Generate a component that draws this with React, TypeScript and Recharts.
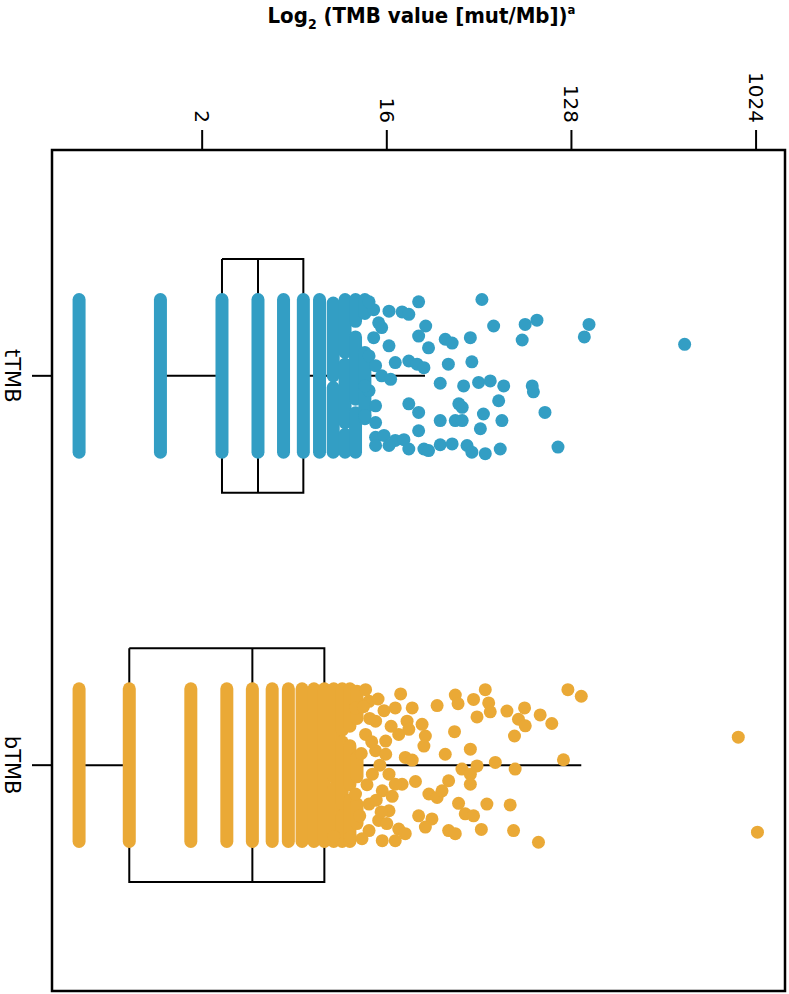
import React from "react";
import {
  ScatterChart,
  Scatter,
  XAxis,
  YAxis,
  ReferenceArea,
} from "recharts";

// categories (1 = top, 2 = bottom)
const categories = ["tTMB", "bTMB"];
const xTicks = [2, 16, 128, 1024];

// TMB values that form solid jittered strips (mut/Mb)
const tStrips = [0.5, 1.25, 2.5, 3.75, 5, 6.25, 7.5];
const bStrips = [0.5, 0.88, 1.76, 2.64, 3.52, 4.4, 5.28, 6.16, 7.04, 7.92];

// partial strips: [value, jitter from, jitter to]
const tSegments: [number, number, number][] = [
  [8.75, -0.187, 0.0],
  [8.75, 0.03, 0.196],
  [10, -0.196, -0.06],
  [10, -0.03, 0.12],
  [10, 0.15, 0.196],
  [11.25, -0.196, -0.14],
  [11.25, -0.1, 0.06],
  [11.25, 0.095, 0.196],
  [12.5, -0.196, -0.16],
  [12.5, -0.06, 0.02],
  [12.5, 0.04, 0.11],
];
const bSegments: [number, number, number][] = [
  [8.8, -0.196, 0.03],
  [8.8, 0.06, 0.196],
  [9.68, -0.196, -0.09],
  [9.68, -0.06, 0.1],
  [9.68, 0.13, 0.196],
  [10.56, -0.196, -0.1],
  [10.56, -0.05, 0.05],
  [10.56, 0.09, 0.196],
  [11.44, -0.19, -0.12],
  [11.44, -0.02, 0.03],
  [11.44, 0.1, 0.15],
];

// single points: [TMB value, jitter]
const tDots: [number, number][] = [
  [22.9, -0.19], [46.7, -0.196], [16.4, -0.166], [19.0, -0.164], [20.5, -0.158],
  [24.8, -0.128], [53.3, -0.128], [76, -0.132], [86.8, -0.143], [22.9, -0.102],
  [30.9, -0.094], [33.4, -0.084], [41, -0.098], [73.5, -0.092], [25.6, -0.072],
  [16.4, -0.077], [14.6, -0.136], [13.8, -0.098], [15.1, -0.124], [17.6, -0.034],
  [20.5, -0.038], [22.5, -0.03], [24.3, -0.021], [32, -0.03], [41.7, -0.036],
  [15.1, 0], [16.7, 0.009], [29.2, 0.019], [38, 0.026], [45, 0.017],
  [51.3, 0.013], [59.7, 0.026], [82.3, 0.026], [83.4, 0.041], [20.5, 0.072],
  [36, 0.072], [37.4, 0.081], [56.4, 0.064], [95, 0.094], [22.9, 0.094],
  [29.2, 0.115], [34.6, 0.115], [37.4, 0.115], [47.5, 0.098], [58.5, 0.115],
  [22.9, 0.141], [45.9, 0.136], [14.1, 0.158], [15.5, 0.153], [17.6, 0.166],
  [19.4, 0.164], [20.5, 0.188], [24.3, 0.188], [25.6, 0.192], [29.2, 0.177],
  [33.4, 0.175], [39.5, 0.179], [41.7, 0.196], [48.5, 0.2], [57.4, 0.188],
  [110, 0.183], [14.1, 0.179], [16.4, 0.179], [13.1, -0.051], [14.1, -0.026],
  [12.5, 0.102], [13.1, 0.038], [12.5, 0.026], [14.1, 0.077], [13.8, -0.17],
  [13.1, -0.19], [14.1, 0.12], [156, -0.132], [148, -0.1], [458, -0.081],
];
const bDots: [number, number][] = [
  [12.6, -0.194], [18.7, -0.183], [21.3, -0.147], [17.6, -0.147], [28.2, -0.153],
  [34.6, -0.18], [35.7, -0.158], [42.5, -0.169], [48.5, -0.194], [50.4, -0.16],
  [51.3, -0.137], [44.2, -0.124], [61.9, -0.139], [75.5, -0.147], [70.5, -0.118],
  [76.1, -0.101], [90, -0.129], [102.6, -0.107], [67.4, -0.075], [34.3, -0.086],
  [23.8, -0.105], [24.7, -0.075], [24.3, -0.049], [20.1, -0.113], [20.5, -0.092],
  [18.3, -0.079], [30.9, -0.028], [41, -0.041], [19.7, -0.02], [21.3, -0.013],
  [14.1, -0.037], [15.8, -0.028], [37.3, 0.01], [41, 0.023], [44.2, 0.002],
  [54.3, -0.007], [67.9, 0.01], [117, -0.014], [32.1, 0.04], [41, 0.049],
  [22.1, 0.042], [19, 0.049], [25.7, 0.074], [28.2, 0.083], [29.8, 0.066],
  [35.9, 0.098], [49.4, 0.1], [64.2, 0.102], [38.7, 0.125], [42.5, 0.13],
  [22.9, 0.13], [26.6, 0.138], [24.7, 0.159], [32.1, 0.168], [34.6, 0.176],
  [46.4, 0.165], [66.7, 0.168], [88.3, 0.198], [18.3, 0.164], [19.7, 0.176],
  [14.6, 0.142], [16.4, 0.117], [13.1, 0.168], [15.2, 0.194], [10.6, 0.185],
  [8.81, 0.183], [12.1, 0.189], [17.6, 0.194], [13.1, 0.1], [11.25, 0.074],
  [15.2, 0.066], [17.6, 0.049], [13.6, 0.023], [12.6, -0.079], [14.1, -0.113],
  [11.25, -0.147], [13.1, -0.164], [15.8, -0.062], [16.4, 0.023], [12.3, -0.15],
  [13.2, -0.12], [14.5, -0.17], [15.5, -0.14], [12.0, -0.03], [13.5, -0.06],
  [14.8, 0.0], [16.8, -0.1], [12.8, 0.05], [14.2, 0.09], [16.0, 0.15],
  [11.8, 0.13], [17.0, 0.08], [15.0, 0.12], [123, -0.194], [143, -0.177],
  [838, -0.072], [1040, 0.172],
];

// box stats: [lower whisker, Q1, median, Q3, upper whisker]
const tBox = [1.25, 2.5, 3.75, 6.25, 24.6];
const bBox = [0.5, 0.88, 3.52, 7.92, 143];

const BLUE = "#339ec4";
const ORANGE = "#eaa936";
const JITTER = 0.196;
const BOX_HALF = 0.3;
const X_DOMAIN = [Math.pow(2, -1.44), Math.pow(2, 10.47)];
const Y_DOMAIN = [0.42, 2.58];

const Empty = () => <g />;

const Dot = (color: string) => (p: any) =>
  <circle cx={p.cx} cy={p.cy} r={6.5} fill={color} />;

function TopTick(props: any) {
  const { x, y, payload } = props;
  return (
    <text
      x={x}
      y={y}
      transform={`rotate(90, ${x}, ${y})`}
      textAnchor="end"
      dy="0.36em"
      fontSize={20}
      fontFamily="DejaVu Sans"
      fill="#000"
    >
      {payload.value}
    </text>
  );
}

function LeftTick(props: any) {
  const { x, y, payload } = props;
  return (
    <text
      x={x}
      y={y}
      transform={`rotate(90, ${x}, ${y})`}
      textAnchor="middle"
      fontSize={21}
      fontFamily="DejaVu Sans"
      fill="#000"
    >
      {categories[payload.value - 1]}
    </text>
  );
}

function AxisTitle(props: any) {
  const vb = props.viewBox || { x: 52, width: 733 };
  const cx = vb.x + vb.width / 2 + 3;
  return (
    <text
      x={cx}
      y={23}
      textAnchor="middle"
      fontSize={22}
      fontWeight="bold"
      fontFamily="DejaVu Sans Condensed"
      fill="#000"
    >
      Log
      <tspan dy={6} fontSize={14}>2</tspan>
      <tspan dy={-6}> (TMB value [mut/Mb])</tspan>
      <tspan dy={-9} fontSize={13}>a</tspan>
    </text>
  );
}

function boxPaths(stats: number[], cat: number) {
  const [lo, q1, med, q3, hi] = stats;
  const top = cat - BOX_HALF;
  const bot = cat + BOX_HALF;
  return [
    [
      { x: q1, y: top }, { x: q3, y: top }, { x: q3, y: bot },
      { x: q1, y: bot }, { x: q1, y: top },
    ],
    [{ x: med, y: top }, { x: med, y: bot }],
    [{ x: lo, y: cat }, { x: q1, y: cat }],
    [{ x: q3, y: cat }, { x: hi, y: cat }],
  ];
}

function stripRows(strips: number[], segs: [number, number, number][], cat: number) {
  const rows = strips.map((v) => [
    { x: v, y: cat - JITTER },
    { x: v, y: cat + JITTER },
  ]);
  segs.forEach(([v, a, b]) => rows.push([{ x: v, y: cat + a }, { x: v, y: cat + b }]));
  return rows;
}

export default function App() {
  const boxes = [...boxPaths(tBox, 1), ...boxPaths(bBox, 2)];
  const tRows = stripRows(tStrips, tSegments, 1);
  const bRows = stripRows(bStrips, bSegments, 2);
  const tPoints = tDots.map(([v, j]) => ({ x: v, y: 1 + j }));
  const bPoints = bDots.map(([v, j]) => ({ x: v, y: 2 + j }));

  return (
    <div style={{ position: "absolute", left: 0, top: 0, background: "#fff" }}>
      <ScatterChart
        width={789}
        height={994}
        margin={{ top: 0, right: 4, bottom: 3, left: 0 }}
      >
        <XAxis
          type="number"
          dataKey="x"
          scale="log"
          domain={X_DOMAIN}
          allowDataOverflow
          ticks={xTicks}
          interval={0}
          orientation="top"
          height={150}
          tickSize={20}
          tickMargin={7}
          axisLine={false}
          tickLine={{ stroke: "#000", strokeWidth: 2 }}
          tick={<TopTick />}
          label={<AxisTitle />}
        />
        <YAxis
          type="number"
          dataKey="y"
          domain={Y_DOMAIN}
          allowDataOverflow
          reversed
          ticks={[1, 2]}
          interval={0}
          width={52}
          tickSize={20}
          tickMargin={27}
          axisLine={false}
          tickLine={{ stroke: "#000", strokeWidth: 2 }}
          tick={<LeftTick />}
        />
        <ReferenceArea
          x1={X_DOMAIN[0]}
          x2={X_DOMAIN[1]}
          y1={Y_DOMAIN[0]}
          y2={Y_DOMAIN[1]}
          fill="none"
          stroke="#000"
          strokeWidth={2.5}
          ifOverflow="visible"
        />
        {boxes.map((d, i) => (
          <Scatter
            key={"box" + i}
            data={d}
            shape={Empty}
            line={{ stroke: "#000", strokeWidth: 2, strokeLinejoin: "miter" }}
            lineType="joint"
            isAnimationActive={false}
          />
        ))}
        {tRows.map((d, i) => (
          <Scatter
            key={"ts" + i}
            data={d}
            shape={Empty}
            line={{ stroke: BLUE, strokeWidth: 13, strokeLinecap: "round" }}
            lineType="joint"
            isAnimationActive={false}
          />
        ))}
        {bRows.map((d, i) => (
          <Scatter
            key={"bs" + i}
            data={d}
            shape={Empty}
            line={{ stroke: ORANGE, strokeWidth: 13, strokeLinecap: "round" }}
            lineType="joint"
            isAnimationActive={false}
          />
        ))}
        <Scatter data={tPoints} shape={Dot(BLUE)} isAnimationActive={false} />
        <Scatter data={bPoints} shape={Dot(ORANGE)} isAnimationActive={false} />
      </ScatterChart>
    </div>
  );
}
